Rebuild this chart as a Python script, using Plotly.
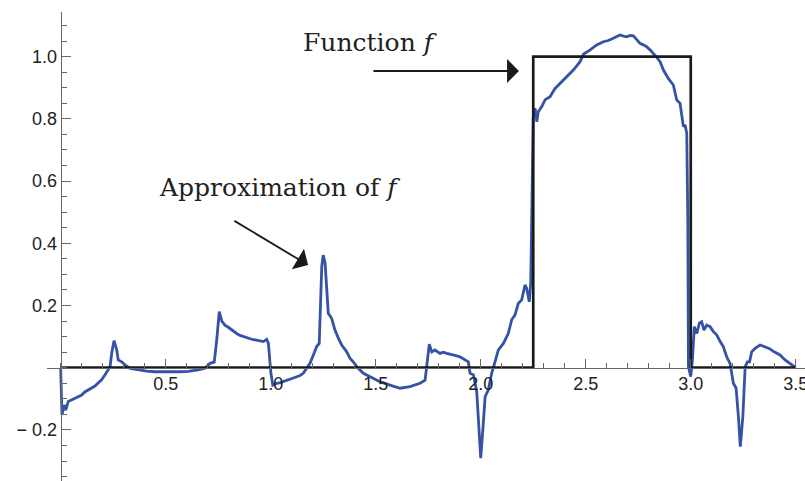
import plotly.graph_objects as go

# Approximation curve
approx_x = [0.0, 0.006, 0.017, 0.024, 0.036, 0.052, 0.068, 0.084, 0.1, 0.115, 0.131, 0.147, 0.163, 0.18,
            0.195, 0.211, 0.227, 0.235, 0.243, 0.254, 0.267, 0.274, 0.29, 0.306, 0.33, 0.37, 0.41, 0.449,
            0.49, 0.529, 0.57, 0.608, 0.655, 0.687, 0.711, 0.731, 0.743, 0.755, 0.767, 0.782, 0.798, 0.814,
            0.838, 0.854, 0.87, 0.885, 0.901, 0.917, 0.933, 0.949, 0.965, 0.981, 0.989, 0.997, 1.001, 1.01,
            1.029, 1.045, 1.06, 1.076, 1.092, 1.108, 1.124, 1.14, 1.155, 1.171, 1.187, 1.203, 1.219, 1.231,
            1.243, 1.25, 1.259, 1.267, 1.274, 1.29, 1.306, 1.322, 1.338, 1.362, 1.378, 1.393, 1.417, 1.441,
            1.473, 1.52, 1.568, 1.616, 1.663, 1.711, 1.735, 1.746, 1.755, 1.767, 1.782, 1.806, 1.822, 1.838,
            1.854, 1.87, 1.886, 1.901, 1.925, 1.941, 1.949, 1.965, 1.981, 1.993, 2.0, 2.01, 2.021, 2.036,
            2.052, 2.068, 2.084, 2.108, 2.131, 2.148, 2.163, 2.179, 2.195, 2.211, 2.219, 2.231, 2.238, 2.243,
            2.25, 2.259, 2.267, 2.274, 2.29, 2.306, 2.33, 2.354, 2.378, 2.41, 2.441, 2.473, 2.489, 2.521,
            2.552, 2.584, 2.608, 2.631, 2.647, 2.663, 2.68, 2.695, 2.711, 2.727, 2.743, 2.758, 2.774, 2.79,
            2.806, 2.822, 2.838, 2.854, 2.87, 2.893, 2.917, 2.933, 2.949, 2.965, 2.973, 2.981, 2.986, 2.989,
            3.0, 3.008, 3.017, 3.029, 3.041, 3.052, 3.063, 3.076, 3.092, 3.108, 3.124, 3.14, 3.155, 3.171,
            3.187, 3.203, 3.216, 3.227, 3.236, 3.248, 3.259, 3.27, 3.28, 3.29, 3.306, 3.33, 3.354, 3.373,
            3.397, 3.425, 3.449, 3.473, 3.489, 3.5]
approx_y = [0.0, -0.152, -0.12, -0.136, -0.109, -0.104, -0.097, -0.092, -0.088, -0.078, -0.072, -0.066, -0.059, -0.048,
            -0.039, -0.023, -0.007, 0.003, 0.047, 0.087, 0.057, 0.025, 0.019, 0.009, -0.002, -0.007, -0.011, -0.013,
            -0.014, -0.013, -0.013, -0.012, -0.007, -0.002, 0.014, 0.018, 0.089, 0.18, 0.15, 0.137, 0.13, 0.121,
            0.11, 0.104, 0.1, 0.096, 0.094, 0.09, 0.089, 0.086, 0.084, 0.091, 0.078, 0.014, -0.018, -0.056,
            -0.05, -0.048, -0.045, -0.04, -0.037, -0.033, -0.029, -0.025, -0.018, -0.002, 0.014, 0.041, 0.068, 0.078,
            0.325, 0.362, 0.336, 0.25, 0.175, 0.159, 0.121, 0.095, 0.073, 0.051, 0.03, 0.019, -0.002, -0.018,
            -0.029, -0.045, -0.056, -0.066, -0.061, -0.05, -0.04, 0.035, 0.076, 0.051, 0.057, 0.046, 0.05, 0.046,
            0.044, 0.041, 0.038, 0.035, 0.025, 0.019, -0.018, -0.023, -0.077, -0.222, -0.291, -0.2, -0.093, -0.072,
            -0.018, 0.019, 0.057, 0.078, 0.11, 0.155, 0.169, 0.207, 0.218, 0.266, 0.255, 0.212, 0.271, 0.486,
            0.807, 0.834, 0.791, 0.823, 0.839, 0.861, 0.871, 0.898, 0.914, 0.936, 0.957, 0.984, 1.008, 1.022,
            1.038, 1.048, 1.052, 1.059, 1.064, 1.07, 1.066, 1.064, 1.068, 1.067, 1.055, 1.043, 1.038, 1.032,
            1.022, 1.011, 0.998, 0.984, 0.957, 0.93, 0.909, 0.861, 0.85, 0.775, 0.78, 0.754, 0.475, 0.003,
            -0.029, 0.025, 0.132, 0.11, 0.143, 0.148, 0.121, 0.137, 0.132, 0.116, 0.105, 0.084, 0.068, 0.035,
            0.014, -0.05, -0.066, -0.158, -0.254, -0.158, 0.003, 0.019, 0.019, 0.051, 0.062, 0.073, 0.068, 0.062,
            0.051, 0.041, 0.025, 0.014, 0.005, 0.0]

# Step function f
f_x = [0.0, 2.25, 2.25, 3.0, 3.0, 3.5]
f_y = [0.0, 0.0, 1.0, 1.0, 0.0, 0.0]

x_tickvals = [0.5, 1.0, 1.5, 2.0, 2.5, 3.0, 3.5]
x_ticktext = ["0.5", "1.0", "1.5", "2.0", "2.5", "3.0", "3.5"]
y_tickvals = [-0.2, 0.2, 0.4, 0.6, 0.8, 1.0]
y_ticktext = ["\u2212 0.2", "0.2", "0.4", "0.6", "0.8", "1.0"]

x_range = [-0.0652, 3.544]
y_range = [-0.3643, 1.1437]

fig = go.Figure()
fig.add_trace(go.Scatter(x=approx_x, y=approx_y, mode="lines",
                         line=dict(color="#3552a6", width=2.8), hoverinfo="skip"))
fig.add_trace(go.Scatter(x=f_x, y=f_y, mode="lines",
                         line=dict(color="#1a1a1a", width=2.7), hoverinfo="skip"))

axis_color = "#666666"
tick_font = dict(family="Liberation Sans, Arial, sans-serif", size=18, color="#222222")

fig.update_layout(
    width=805, height=481,
    margin=dict(l=47, r=0, t=12, b=0, autoexpand=False),
    paper_bgcolor="white", plot_bgcolor="white",
    showlegend=False,
    xaxis=dict(range=x_range, anchor="free", position=(0 - y_range[0]) / (y_range[1] - y_range[0]),
               automargin=False, ticklabeloverflow="allow",
               showgrid=False, zeroline=False, showline=True, linecolor=axis_color, linewidth=1.2,
               tickmode="array", tickvals=x_tickvals, ticktext=x_ticktext,
               ticks="inside", ticklen=9, tickwidth=1.2, tickcolor=axis_color, tickfont=tick_font,
               minor=dict(ticks="inside", dtick=0.1, tick0=0, ticklen=5, tickwidth=1, tickcolor=axis_color)),
    yaxis=dict(range=y_range, anchor="free", position=(0 - x_range[0]) / (x_range[1] - x_range[0]),
               automargin=False, ticklabeloverflow="allow",
               showgrid=False, zeroline=False, showline=True, linecolor=axis_color, linewidth=1.2,
               tickmode="array", tickvals=y_tickvals, ticktext=y_ticktext,
               ticks="inside", ticklen=9, tickwidth=1.2, tickcolor=axis_color, tickfont=tick_font,
               minor=dict(ticks="inside", dtick=0.05, tick0=0, ticklen=5, tickwidth=1, tickcolor=axis_color)),
)

label_font = dict(family="DejaVu Serif, serif", size=25, color="#222222")
fig.add_annotation(x=1.473, y=1.047, xref="x", yref="y", text="Function <i>f</i>",
                   showarrow=False, font=label_font)
fig.add_annotation(x=1.044, y=0.578, xref="x", yref="y", text="Approximation of <i>f</i>",
                   showarrow=False, font=label_font)
fig.add_annotation(x=2.182, y=0.954, ax=1.482, ay=0.954, xref="x", yref="y", axref="x", ayref="y",
                   text="", showarrow=True, arrowhead=1, arrowsize=2.2, arrowwidth=1.8, arrowcolor="#1a1a1a",
                   standoff=0, startstandoff=0)
fig.add_annotation(x=1.178, y=0.33, ax=0.82, ay=0.475, xref="x", yref="y", axref="x", ayref="y",
                   text="", showarrow=True, arrowhead=1, arrowsize=2.2, arrowwidth=1.8, arrowcolor="#1a1a1a",
                   standoff=0, startstandoff=0)

fig.write_html("out.html", config={"displayModeBar": False},
               post_script="document.body.style.margin='0';document.body.style.overflow='hidden';")
